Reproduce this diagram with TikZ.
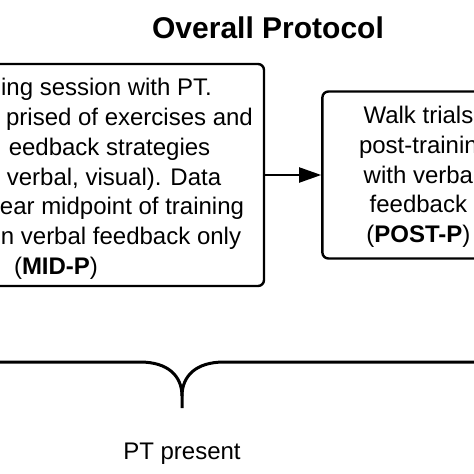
\documentclass[tikz,border=0pt]{standalone}
\usepackage{fontspec}
\setmainfont{Liberation Sans}
\usepackage{tikz}
\usetikzlibrary{arrows.meta,positioning}

\begin{document}
\begin{tikzpicture}[
  x=1pt, y=-1pt,
  stage/.style={draw, rounded corners=6pt, line width=2.4pt, fill=white,
                align=center, inner sep=0pt,
                font=\fontsize{24}{29.7}\selectfont},
  arr/.style={-{Triangle[length=22pt, width=15pt]}, line width=2pt},
  brace/.style={line width=3pt, line join=round},
  lbl/.style={font=\fontsize{24}{29}\selectfont}
]
\useasboundingbox (0,0) rectangle (474,474);

% --- Title ---
\node[font=\fontsize{30}{35}\selectfont\bfseries] (title) at (268,28)
  {Overall Protocol};

% --- Training box (cut by the left edge) ---
\node[stage, minimum width=416pt, minimum height=222pt] (mid) at (56,175)
  {\rule{0pt}{25pt}\hspace*{101pt}ing session with PT.\\
   \hspace*{147pt}prised of exercises and\\
   \hspace*{107pt}eedback strategies\\
   \hspace*{116pt}verbal, visual). Data\\
   \hspace*{132pt}ear midpoint of training\\
   \hspace*{130pt}n verbal feedback only\\
   (\textbf{MID-P})};

% --- Walk trials box (cut by the right edge) ---
\node[stage, minimum width=192pt, minimum height=167pt, right=56pt of mid]
  (post)
  {\rule{0pt}{21pt}Walk trials\\
   post-trainin\hspace*{16pt}\\
   with verba\hspace*{5.3pt}\\
   feedback\\
   (\textbf{POST-P})};

% --- Arrow ---
\draw[arr] (mid) -- (post);

% --- Brace ---
\coordinate (tip) at (182,408);
\draw[brace] (-5,362) -- (140,362)
  .. controls (168,362) and (182,376) .. (182,396) -- (tip);
\draw[brace] (182,396) .. controls (182,376) and (196,362) .. (224,362)
  -- (480,362);

% --- Label ---
\node[lbl, below=31pt of tip] (pt) {PT present};
\end{tikzpicture}
\end{document}
